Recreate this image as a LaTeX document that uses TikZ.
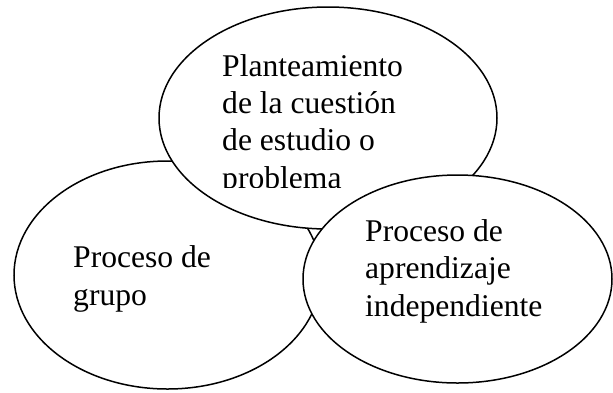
\documentclass[tikz,border=0pt]{standalone}
\usepackage{fontspec}
\setmainfont{Liberation Serif}
\usetikzlibrary{shapes.geometric}

\begin{document}
\begin{tikzpicture}[
  x=1pt, y=-1pt,
  font=\fontsize{31.6}{37.3}\selectfont,
  bubble/.style={ellipse, draw=black, line width=1.5pt, fill=white,
                 inner sep=0pt},
  bubbletext/.style={anchor=base west, align=left, inner sep=0pt}
]
\useasboundingbox (0,0) rectangle (613,392);

% ellipses (back to front)
\node[bubble, minimum width=307pt, minimum height=228pt] (grupo) at (167.5,275) {};
\node[bubble, minimum width=338pt, minimum height=222pt] (cuestion) at (328,118) {};
\node[bubble, minimum width=309pt, minimum height=208pt] (aprendizaje) at (457.5,279) {};

% texts (anchored at the last line)
\begin{scope}
\clip (0,0) rectangle (613,187);
\node[bubbletext] (cuestiontxt) at (222,188)
  {Planteamiento\\de la cuestión\\de estudio o\\problema};
\end{scope}
\node[bubbletext] (grupotxt) at (73,305) {Proceso de\\grupo};
\node[bubbletext] (aprendizajetxt) at (365,316)
  {Proceso de\\aprendizaje\\independiente};

\end{tikzpicture}
\end{document}
